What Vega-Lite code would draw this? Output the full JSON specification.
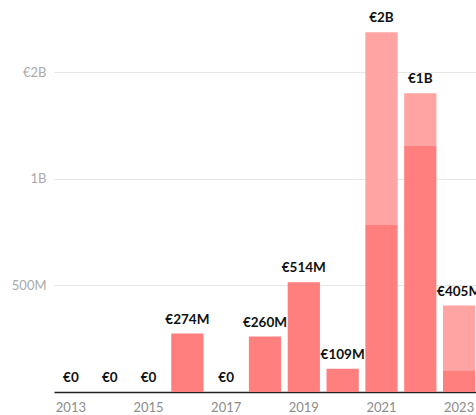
{
  "$schema": "https://vega.github.io/schema/vega-lite/v6.json",
  "width": 422,
  "height": 392,
  "autosize": {"type": "none"},
  "padding": {"left": 54, "top": 0, "right": 0, "bottom": 23},
  "background": "#ffffff",
  "config": {
    "view": {"stroke": null},
    "font": "Lato"
  },
  "datasets": {
    "segments": [
      {"year": 2013, "part": "first", "value": 0},
      {"year": 2014, "part": "first", "value": 0},
      {"year": 2015, "part": "first", "value": 0},
      {"year": 2016, "part": "first", "value": 274000000},
      {"year": 2017, "part": "first", "value": 0},
      {"year": 2018, "part": "first", "value": 260000000},
      {"year": 2019, "part": "first", "value": 514000000},
      {"year": 2020, "part": "first", "value": 109000000},
      {"year": 2021, "part": "first", "value": 783000000},
      {"year": 2021, "part": "second", "value": 903000000},
      {"year": 2022, "part": "first", "value": 1153000000},
      {"year": 2022, "part": "second", "value": 247000000},
      {"year": 2023, "part": "first", "value": 102000000},
      {"year": 2023, "part": "second", "value": 303000000}
    ],
    "totals": [
      {"year": 2013, "total": 0, "label": "€0"},
      {"year": 2014, "total": 0, "label": "€0"},
      {"year": 2015, "total": 0, "label": "€0"},
      {"year": 2016, "total": 274000000, "label": "€274M"},
      {"year": 2017, "total": 0, "label": "€0"},
      {"year": 2018, "total": 260000000, "label": "€260M"},
      {"year": 2019, "total": 514000000, "label": "€514M"},
      {"year": 2020, "total": 109000000, "label": "€109M"},
      {"year": 2021, "total": 1686000000, "label": "€2B"},
      {"year": 2022, "total": 1400000000, "label": "€1B"},
      {"year": 2023, "total": 405000000, "label": "€405M"}
    ]
  },
  "encoding": {
    "x": {
      "field": "year",
      "type": "ordinal",
      "scale": {"paddingInner": 0.17, "paddingOuter": 0.02},
      "axis": {
        "title": null,
        "values": [2013, 2015, 2017, 2019, 2021, 2023],
        "labelAngle": 0,
        "labelColor": "#8c8c8c",
        "labelFontSize": 13,
        "labelPadding": 9,
        "ticks": false,
        "domainColor": "#222222",
        "domainWidth": 1.5,
        "grid": false
      }
    }
  },
  "layer": [
    {
      "data": {"name": "segments"},
      "mark": {"type": "bar"},
      "encoding": {
        "y": {
          "field": "value",
          "type": "quantitative",
          "stack": "zero",
          "scale": {"domain": [0, 1837500000], "nice": false},
          "axis": {
            "title": null,
            "values": [500000000, 1000000000, 1500000000],
            "labelExpr": "datum.value == 1500000000 ? '€2B' : datum.value == 1000000000 ? '1B' : '500M'",
            "labelColor": "#aaaaaa",
            "labelFontSize": 13,
            "labelPadding": 8,
            "ticks": false,
            "domain": false,
            "gridColor": "#e6e6e6",
            "gridWidth": 1
          }
        },
        "color": {
          "field": "part",
          "type": "nominal",
          "scale": {"domain": ["first", "second"], "range": ["#ff7f7f", "#ffa3a3"]},
          "legend": null
        },
        "order": {"field": "part", "sort": "ascending"}
      }
    },
    {
      "data": {"name": "totals"},
      "mark": {"type": "text", "baseline": "bottom", "dy": -7, "fontWeight": "bold", "fontSize": 13.5, "color": "#111111"},
      "encoding": {
        "y": {"field": "total", "type": "quantitative"},
        "text": {"field": "label"}
      }
    }
  ]
}
